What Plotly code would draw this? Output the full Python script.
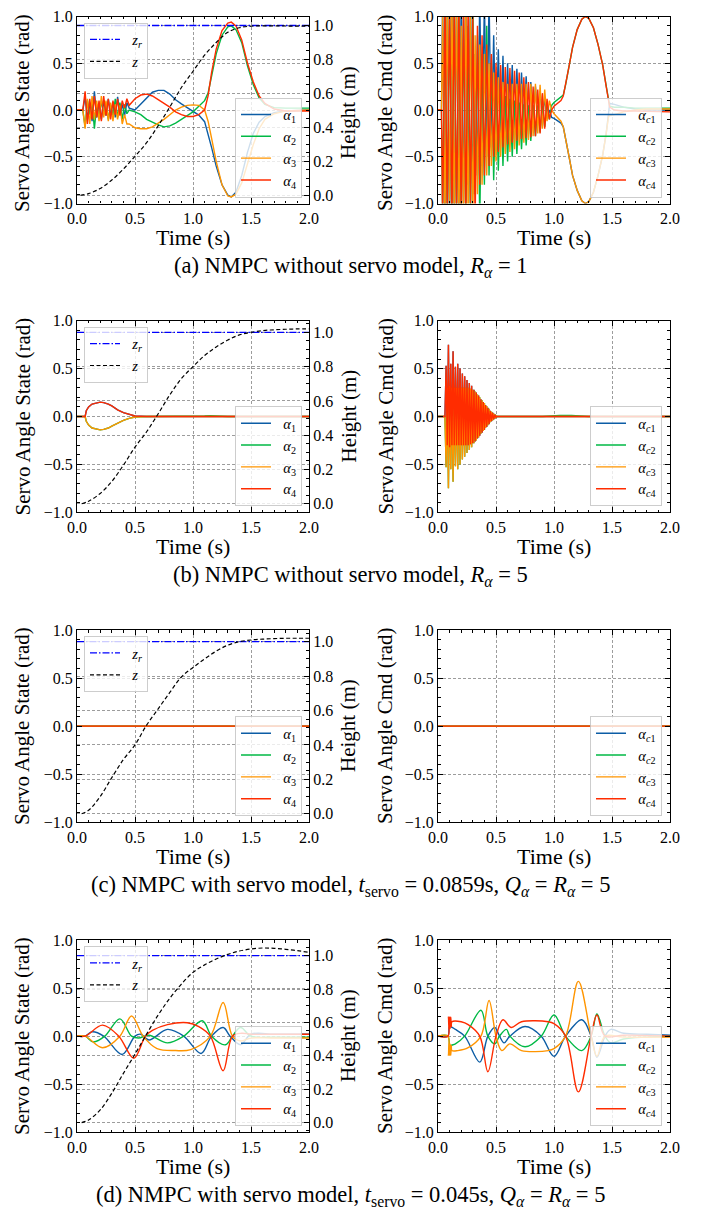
import plotly.graph_objects as go

# ---------------------------------------------------------------- data
C1, C2, C3, C4 = "#0C5DA5", "#00B945", "#FF9500", "#FF2C00"

# reference height (same in every row)
T_ZR = [0.0, 2.0]
ZR = [1.0, 1.0]

# ---- (a) NMPC without servo model, R_alpha = 1
T_Z_A = [0.03, 0.1, 0.2, 0.3, 0.4, 0.5, 0.6, 0.7, 0.8, 0.9, 1.0, 1.1, 1.2, 1.3, 1.4, 1.5, 1.6, 1.7, 1.8, 1.9, 2.0]
Z_A = [0.0, 0.01, 0.04, 0.09, 0.155, 0.23, 0.31, 0.41, 0.52, 0.635, 0.73, 0.825, 0.9, 0.96, 0.987, 0.996, 0.998, 0.998, 0.997, 0.996, 0.996]

T_A_STATE = [0.0, 0.05, 0.07, 0.09, 0.11, 0.13, 0.15, 0.17, 0.19, 0.21, 0.23, 0.25, 0.27, 0.29, 0.31, 0.33,
             0.35, 0.37, 0.39, 0.41, 0.43, 0.45, 0.5, 0.55, 0.6, 0.65, 0.7, 0.75, 0.8, 0.85, 0.9, 0.95, 1.0,
             1.05, 1.1, 1.13, 1.16, 1.2, 1.25, 1.3, 1.33, 1.37, 1.42, 1.47, 1.52, 1.57, 1.62, 1.7, 1.8, 2.0]
A1_A = [0.0, 0.0, 0.14, -0.10, 0.08, -0.12, 0.20, -0.08, 0.06, -0.10, 0.10, -0.06, 0.12, -0.05, 0.08, -0.08,
        0.14, -0.04, 0.06, -0.06, 0.08, 0.02, 0.0, 0.065, 0.13, 0.19, 0.21, 0.21, 0.17, 0.11, 0.065, 0.025,
        -0.02, -0.055, -0.125, -0.25, -0.4, -0.6, -0.8, -0.91, -0.93, -0.88, -0.7, -0.45, -0.25, -0.13,
        -0.07, -0.03, -0.01, 0.0]
A2_A = [0.0, 0.0, -0.18, 0.10, -0.05, 0.08, -0.20, 0.06, -0.08, 0.10, -0.05, 0.08, -0.10, 0.05, -0.06, 0.12,
        -0.08, 0.08, -0.10, 0.06, -0.04, 0.0, -0.02, -0.05, -0.1, -0.13, -0.16, -0.18, -0.17, -0.14, -0.1,
        -0.06, -0.02, 0.04, 0.1, 0.18, 0.35, 0.6, 0.8, 0.89, 0.9, 0.86, 0.72, 0.47, 0.27, 0.13, 0.06, 0.025,
        0.02, 0.02]
A3_A = [0.0, 0.0, -0.20, 0.12, -0.15, 0.15, -0.10, 0.10, -0.12, 0.15, -0.08, 0.10, -0.12, 0.08, -0.12, 0.06,
        -0.10, 0.05, -0.15, -0.05, -0.15, -0.15, -0.19, -0.2, -0.2, -0.18, -0.14, -0.1, -0.05, 0.0, 0.03,
        0.05, 0.055, 0.05, 0.0, -0.12, -0.3, -0.55, -0.8, -0.92, -0.93, -0.9, -0.78, -0.58, -0.37, -0.2,
        -0.1, -0.04, -0.01, 0.0]
A4_A = [0.0, 0.0, 0.20, -0.15, 0.12, -0.10, 0.15, -0.08, 0.10, -0.12, 0.15, -0.06, 0.12, -0.10, 0.10, -0.05,
        0.12, -0.06, 0.10, 0.02, 0.12, 0.05, 0.12, 0.16, 0.17, 0.15, 0.11, 0.07, 0.03, -0.02, -0.05, -0.07,
        -0.07, -0.05, 0.0, 0.15, 0.4, 0.65, 0.85, 0.93, 0.94, 0.9, 0.75, 0.5, 0.3, 0.15, 0.07, 0.01, -0.01,
        -0.01]

T_A_CMD = [0.0, 0.03, 0.04, 0.06, 0.08, 0.10, 0.12, 0.14, 0.16, 0.18, 0.20, 0.22, 0.24, 0.26, 0.28, 0.30,
           0.32, 0.34, 0.36, 0.38, 0.40, 0.42, 0.44, 0.46, 0.48, 0.50, 0.52, 0.54, 0.56, 0.58, 0.60, 0.62,
           0.64, 0.66, 0.68, 0.70, 0.72, 0.74, 0.76, 0.78, 0.80, 0.82, 0.84, 0.86, 0.88, 0.90, 0.92, 0.94,
           0.96, 0.98, 1.0, 1.03, 1.06, 1.08, 1.1, 1.13, 1.16, 1.2, 1.24, 1.27, 1.3, 1.34, 1.38, 1.42, 1.45,
           1.47, 1.48, 1.52, 1.6, 1.7, 1.8, 2.0]
AC1_A = [0.0, 0.0, 1.2, -1.2, 1.2, -1.2, 1.2, -1.2, 1.2, -1.2, 1.2, -1.0, 1.2, -0.8, 1.2, -0.9, 0.6, -0.7,
         1.2, -0.6, 1.2, -0.5, 1.2, -0.4, 0.8, -0.35, 0.65, -0.3, 0.58, -0.3, 0.5, -0.25, 0.48, -0.22, 0.44,
         -0.2, 0.4, -0.18, 0.36, -0.15, 0.3, -0.13, 0.25, -0.1, 0.2, -0.08, 0.12, -0.08, 0.0,
         -0.08, -0.09, -0.12, -0.14, -0.18, -0.3, -0.5, -0.7, -0.86, -0.97, -1.0, -0.98, -0.88, -0.7, -0.48,
         -0.25, -0.07, 0.07, 0.06, 0.03, 0.01, 0.0, 0.0]
AC2_A = [0.0, 0.0, -1.2, 1.2, -1.2, 1.2, -1.2, 1.2, -1.2, 1.2, -1.2, 1.0, -1.2, 0.9, -1.2, 1.2, -0.9, 0.8,
         -1.2, 0.6, -0.8, 0.9, -0.7, 0.5, -0.75, 0.3, -0.65, 0.2, -0.6, 0.15, -0.55, 0.12, -0.5, 0.1, -0.47,
         0.08, -0.42, 0.06, -0.38, 0.05, -0.33, 0.05, -0.28, 0.05, -0.24, 0.05, -0.18, 0.05, -0.1,
         0.05, 0.08, 0.11, 0.13, 0.16, 0.27, 0.47, 0.67, 0.86, 0.97, 1.0, 0.98, 0.88, 0.7, 0.48, 0.25, 0.08,
         0.04, 0.03, 0.03, 0.02, 0.02, 0.02]
AC3_A = [0.0, 0.0, 1.0, -1.2, 1.2, -1.0, 1.2, -1.2, 1.2, -1.2, 0.9, -1.2, 1.2, -1.2, 1.0, -1.2, 0.8, -0.9,
         0.7, -0.8, 0.6, -0.7, 0.5, -0.6, 0.4, -0.55, 0.35, -0.5, 0.3, -0.47, 0.28, -0.45, 0.28, -0.42, 0.28,
         -0.38, 0.28, -0.35, 0.28, -0.32, 0.28, -0.28, 0.28, -0.25, 0.27, -0.2, 0.22, -0.12, 0.1,
         0.0, -0.04, -0.08, -0.12, -0.18, -0.3, -0.5, -0.7, -0.86, -0.97, -1.0, -0.98, -0.88, -0.7, -0.48,
         -0.25, -0.07, -0.06, -0.05, -0.02, 0.0, 0.01, 0.01]
AC4_A = [0.0, 0.0, -1.2, 1.2, -1.2, 1.2, -1.2, 1.2, -1.2, 1.2, -1.2, 1.2, -1.2, 1.2, -1.0, 1.0, -1.2, 0.9,
         -0.8, 0.8, -0.7, 0.7, -0.6, 0.6, -0.5, 0.5, -0.45, 0.48, -0.4, 0.46, -0.37, 0.45, -0.35, 0.42, -0.33,
         0.4, -0.31, 0.35, -0.3, 0.3, -0.29, 0.25, -0.28, 0.22, -0.25, 0.18, -0.2, 0.12, -0.1,
         0.0, 0.04, 0.07, 0.1, 0.15, 0.27, 0.47, 0.67, 0.86, 0.97, 1.0, 0.98, 0.88, 0.7, 0.48, 0.25, 0.08,
         0.03, 0.0, -0.01, -0.01, -0.015, -0.02]

# ---- (b) NMPC without servo model, R_alpha = 5
T_Z_B = [0.04, 0.1, 0.2, 0.3, 0.4, 0.5, 0.6, 0.7, 0.8, 0.9, 1.0, 1.1, 1.2, 1.3, 1.4, 1.5, 1.6, 1.7, 1.8, 1.9, 2.0]
Z_B = [0.0, 0.015, 0.06, 0.13, 0.225, 0.33, 0.42, 0.525, 0.635, 0.73, 0.80, 0.865, 0.915, 0.955, 0.985, 1.0,
       1.01, 1.015, 1.018, 1.02, 1.02]

T_B_STATE = [0.0, 0.07, 0.08, 0.1, 0.13, 0.17, 0.2, 0.23, 0.27, 0.3, 0.35, 0.4, 0.45, 0.5, 0.6, 1.0, 1.1,
             1.15, 1.2, 1.3, 2.0]
A1_B = [0.0, 0.0, 0.06, 0.1, 0.13, 0.145, 0.15, 0.145, 0.13, 0.11, 0.07, 0.04, 0.02, 0.005, 0.0, 0.0, 0.0,
        0.0, 0.0, 0.0, 0.0]
A2_B = [0.0, 0.0, -0.05, -0.09, -0.12, -0.135, -0.14, -0.135, -0.12, -0.1, -0.07, -0.04, -0.02, -0.005, 0.0,
        0.0, 0.005, 0.008, 0.005, 0.0, 0.0]
A3_B = [0.0, 0.0, -0.05, -0.09, -0.12, -0.135, -0.14, -0.135, -0.12, -0.1, -0.07, -0.04, -0.02, -0.005, 0.0,
        0.0, 0.0, 0.0, 0.0, 0.0, 0.0]
A4_B = [0.0, 0.0, 0.06, 0.1, 0.13, 0.145, 0.15, 0.145, 0.13, 0.11, 0.07, 0.04, 0.02, 0.005, 0.0, 0.0, 0.0,
        0.0, 0.0, 0.0, 0.0]

T_B_CMD = [0.0, 0.06, 0.07, 0.08, 0.09, 0.10, 0.11, 0.12, 0.13, 0.14, 0.15, 0.16, 0.17, 0.18, 0.19, 0.20,
           0.21, 0.22, 0.23, 0.24, 0.25, 0.26, 0.27, 0.28, 0.29, 0.30, 0.31, 0.32, 0.33, 0.34, 0.35, 0.36,
           0.37, 0.38, 0.39, 0.40, 0.41, 0.42, 0.43, 0.44, 0.45, 0.46, 0.47, 0.48, 0.49, 0.50, 0.51,
           0.6, 0.9, 1.05, 1.15, 1.3, 2.0]
AC4_B = [0.0, 0.0, 0.53, -0.3, 0.75, -0.32, 0.55, -0.3, 0.68, -0.3, 0.52, -0.3, 0.55, -0.3, 0.5, -0.3, 0.45,
         -0.3, 0.42, -0.3, 0.38, -0.3, 0.35, -0.29, 0.32, -0.28, 0.28, -0.26, 0.25, -0.23, 0.22, -0.2, 0.18,
         -0.17, 0.15, -0.14, 0.12, -0.11, 0.09, -0.08, 0.06, -0.05, 0.04, -0.03, 0.02, -0.01, 0.0,
         0.0, 0.0, 0.0, 0.0, 0.0, 0.0]
AC3_B = [0.0, 0.0, -0.53, 0.3, -0.75, 0.32, -0.55, 0.3, -0.68, 0.3, -0.52, 0.3, -0.55, 0.3, -0.5, 0.3, -0.45,
         0.3, -0.42, 0.3, -0.38, 0.3, -0.35, 0.29, -0.32, 0.28, -0.28, 0.26, -0.25, 0.23, -0.22, 0.2, -0.18,
         0.17, -0.15, 0.14, -0.12, 0.11, -0.09, 0.08, -0.06, 0.05, -0.04, 0.03, -0.02, 0.01, 0.0,
         0.0, 0.0, 0.0, 0.0, 0.0, 0.0]
# blue and green lie exactly under red and orange in this panel
AC1_B = [0.0, 0.0, 0.53, -0.3, 0.75, -0.32, 0.55, -0.3, 0.68, -0.3, 0.52, -0.3, 0.55, -0.3, 0.5, -0.3, 0.45,
         -0.3, 0.42, -0.3, 0.38, -0.3, 0.35, -0.29, 0.32, -0.28, 0.28, -0.26, 0.25, -0.23, 0.22, -0.2, 0.18,
         -0.17, 0.15, -0.14, 0.12, -0.11, 0.09, -0.08, 0.06, -0.05, 0.04, -0.03, 0.02, -0.01, 0.0,
         0.0, 0.0, 0.0, 0.0, 0.0, 0.0]
AC2_B = [0.0, 0.0, -0.53, 0.3, -0.75, 0.32, -0.55, 0.3, -0.68, 0.3, -0.52, 0.3, -0.55, 0.3, -0.5, 0.3, -0.45,
         0.3, -0.42, 0.3, -0.38, 0.3, -0.35, 0.29, -0.32, 0.28, -0.28, 0.26, -0.25, 0.23, -0.22, 0.2, -0.18,
         0.17, -0.15, 0.14, -0.12, 0.11, -0.09, 0.08, -0.06, 0.05, -0.04, 0.03, -0.02, 0.01, 0.0,
         0.0, 0.0, 0.01, 0.01, 0.0, 0.0]

# ---- (c) NMPC with servo model, t_servo = 0.0859 s
T_Z_C = [0.04, 0.1, 0.2, 0.3, 0.4, 0.5, 0.6, 0.7, 0.8, 0.9, 1.0, 1.1, 1.2, 1.3, 1.4, 1.5, 1.6, 1.7, 1.8, 1.9, 2.0]
Z_C = [0.0, 0.02, 0.1, 0.21, 0.315, 0.40, 0.515, 0.61, 0.705, 0.795, 0.85, 0.9, 0.945, 0.98, 1.0, 1.01,
       1.015, 1.018, 1.02, 1.02, 1.02]
T_C = [0.0, 2.0]
A_C = [0.0, 0.0]      # all four servo states stay at zero
AC_C = [0.0, 0.0]     # all four servo commands stay at zero

# ---- (d) NMPC with servo model, t_servo = 0.045 s
T_Z_D = [0.04, 0.1, 0.2, 0.3, 0.4, 0.5, 0.6, 0.7, 0.8, 0.9, 1.0, 1.1, 1.2, 1.3, 1.4, 1.5, 1.6, 1.7, 1.8, 1.9, 2.0]
Z_D = [0.0, 0.016, 0.076, 0.176, 0.295, 0.41, 0.53, 0.645, 0.745, 0.83, 0.9, 0.945, 0.98, 1.008, 1.028,
       1.04, 1.046, 1.044, 1.038, 1.03, 1.02]

T_A1_D = [0.0, 0.07, 0.13, 0.23, 0.39, 0.5, 0.55, 0.62, 0.78, 0.92, 1.07, 1.16, 1.26, 1.32, 1.41, 1.5, 1.7, 2.0]
A1_D = [0.0, 0.0, 0.045, 0.0, -0.19, 0.0, 0.02, -0.04, 0.07, 0.0, -0.18, 0.0, 0.09, 0.0, -0.09, 0.02, 0.02, 0.02]
T_A2_D = [0.0, 0.07, 0.14, 0.24, 0.37, 0.47, 0.53, 0.62, 0.78, 0.92, 1.08, 1.16, 1.28, 1.34, 1.41, 1.5, 1.7, 2.0]
A2_D = [0.0, 0.0, -0.06, 0.0, 0.18, 0.0, -0.02, 0.01, -0.07, 0.0, 0.16, 0.0, -0.09, 0.0, 0.09, 0.0, -0.01, -0.01]
T_A3_D = [0.0, 0.07, 0.22, 0.37, 0.47, 0.57, 0.69, 0.85, 0.98, 1.15, 1.26, 1.34, 1.41, 1.5, 1.7, 2.0]
A3_D = [0.0, 0.0, -0.12, 0.0, 0.21, 0.0, -0.13, -0.15, -0.14, 0.0, 0.35, 0.0, -0.05, -0.02, -0.02, -0.02]
T_A4_D = [0.0, 0.07, 0.22, 0.36, 0.49, 0.59, 0.65, 0.78, 0.95, 1.05, 1.15, 1.26, 1.34, 1.42, 1.5, 1.7, 2.0]
A4_D = [0.0, 0.0, 0.115, 0.0, -0.23, 0.0, 0.06, 0.12, 0.14, 0.1, 0.0, -0.36, 0.0, 0.03, 0.02, 0.02, 0.02]

T_AC1_D = [0.0, 0.085, 0.1, 0.15, 0.23, 0.36, 0.43, 0.49, 0.53, 0.57, 0.62, 0.75, 0.89, 1.0, 1.1, 1.24, 1.32,
           1.37, 1.44, 1.49, 1.6, 1.8, 2.0]
AC1_D = [0.0, 0.0, 0.1, 0.07, 0.0, -0.27, 0.0, 0.09, 0.0, -0.07, 0.0, 0.1, 0.0, -0.21, 0.0, 0.17, 0.0, -0.22,
         0.0, 0.07, 0.03, 0.02, 0.01]
T_AC2_D = [0.0, 0.085, 0.1, 0.11, 0.15, 0.23, 0.37, 0.43, 0.49, 0.53, 0.59, 0.62, 0.75, 0.89, 1.0, 1.1, 1.24,
           1.32, 1.37, 1.44, 1.49, 1.6, 1.8, 2.0]
AC2_D = [0.0, 0.0, -0.15, -0.1, -0.08, 0.0, 0.27, 0.0, -0.08, 0.0, 0.07, 0.0, -0.11, 0.0, 0.22, 0.0, -0.15,
         0.0, 0.23, 0.0, -0.07, -0.03, -0.01, 0.0]
T_AC3_D = [0.0, 0.085, 0.09, 0.095, 0.1, 0.105, 0.11, 0.115, 0.12, 0.17, 0.26, 0.37, 0.44, 0.5, 0.55, 0.62,
           0.72, 0.95, 1.0, 1.1, 1.21, 1.32, 1.37, 1.44, 1.6, 2.0]
AC3_D = [0.0, 0.0, -0.2, -0.05, -0.2, -0.08, -0.2, -0.1, -0.15, -0.15, -0.12, 0.0, 0.37, 0.0, -0.15, -0.08,
         -0.15, -0.15, -0.13, 0.0, 0.57, 0.0, -0.21, 0.0, -0.01, -0.01]
T_AC4_D = [0.0, 0.085, 0.09, 0.095, 0.1, 0.105, 0.11, 0.115, 0.12, 0.2, 0.26, 0.36, 0.43, 0.5, 0.56, 0.63,
           0.72, 0.95, 1.0, 1.1, 1.21, 1.32, 1.37, 1.44, 1.6, 2.0]
AC4_D = [0.0, 0.0, 0.2, 0.05, 0.2, 0.08, 0.2, 0.1, 0.15, 0.15, 0.12, 0.0, -0.37, 0.0, 0.17, 0.09, 0.15, 0.15,
         0.13, 0.0, -0.58, 0.0, 0.22, 0.0, 0.01, 0.0]

CAPTIONS = [
    "(a) NMPC without servo model, <i>R</i><sub><i>α</i></sub> = 1",
    "(b) NMPC without servo model, <i>R</i><sub><i>α</i></sub> = 5",
    "(c) NMPC with servo model, <i>t</i><sub>servo</sub> = 0.0859s, <i>Q</i><sub><i>α</i></sub> = <i>R</i><sub><i>α</i></sub> = 5",
    "(d) NMPC with servo model, <i>t</i><sub>servo</sub> = 0.045s, <i>Q</i><sub><i>α</i></sub> = <i>R</i><sub><i>α</i></sub> = 5",
]
NB = "\u00a0\u00a0"
STATE_NAMES = [NB + "<i>α</i><sub>1</sub>", NB + "<i>α</i><sub>2</sub>", NB + "<i>α</i><sub>3</sub>",
               NB + "<i>α</i><sub>4</sub>"]
CMD_NAMES = [NB + "<i>α</i><sub><i>c</i>1</sub>", NB + "<i>α</i><sub><i>c</i>2</sub>",
             NB + "<i>α</i><sub><i>c</i>3</sub>", NB + "<i>α</i><sub><i>c</i>4</sub>"]
ZR_NAME = NB + "<i>z</i><sub><i>r</i></sub>"
Z_NAME = NB + "<i>z</i>"
Y_STATE_TITLE = "Servo Angle State (rad)"
Y_CMD_TITLE = "Servo Angle Cmd (rad)"
Y_HEIGHT_TITLE = "Height (m)"
X_TITLE = "Time (s)"

ROWS = [
    dict(z=(T_Z_A, Z_A), hr=[-0.048, 1.053],
         state=[(T_A_STATE, A1_A), (T_A_STATE, A2_A), (T_A_STATE, A3_A), (T_A_STATE, A4_A)],
         cmd=[(T_A_CMD, AC1_A), (T_A_CMD, AC2_A), (T_A_CMD, AC3_A), (T_A_CMD, AC4_A)], shape="linear"),
    dict(z=(T_Z_B, Z_B), hr=[-0.05, 1.068],
         state=[(T_B_STATE, A1_B), (T_B_STATE, A2_B), (T_B_STATE, A3_B), (T_B_STATE, A4_B)],
         cmd=[(T_B_CMD, AC1_B), (T_B_CMD, AC2_B), (T_B_CMD, AC3_B), (T_B_CMD, AC4_B)], shape="linear"),
    dict(z=(T_Z_C, Z_C), hr=[-0.05, 1.068],
         state=[(T_C, A_C)] * 4, cmd=[(T_C, AC_C)] * 4, shape="linear"),
    dict(z=(T_Z_D, Z_D), hr=[-0.058, 1.094],
         state=[(T_A1_D, A1_D), (T_A2_D, A2_D), (T_A3_D, A3_D), (T_A4_D, A4_D)],
         cmd=[(T_AC1_D, AC1_D), (T_AC2_D, AC2_D), (T_AC3_D, AC3_D), (T_AC4_D, AC4_D)], shape="spline"),
]

# ---------------------------------------------------------------- layout geometry (page pixels)
PAGE_W, PAGE_H = 701, 1211
OFF = 8                      # default body margin of the html page
W, H = PAGE_W - OFF, PAGE_H - OFF
FONT = "Liberation Serif, Times New Roman, Times, serif"
TOPS = [16.5, 320.7, 630, 940]
BOTS = [203.5, 512.3, 822.3, 1132.3]
YTITLE_MID = [113, 416.5, 726, 1036]
XL = (77, 309)
XR = (438, 670)
COLORS = [C1, C2, C3, C4]
GRID = "rgba(90,90,90,0.6)"


def px(x):
    return (x - OFF) / W


def py(y):
    return 1 - (y - OFF) / H


def ref(prefix, n):
    return prefix if n == 1 else f"{prefix}{n}"


fig = go.Figure()
layout = dict(template="none", width=W, height=H, margin=dict(l=0, r=0, t=0, b=0, pad=0),
              paper_bgcolor="white", plot_bgcolor="white", showlegend=True,
              font=dict(family=FONT, size=16, color="black"), annotations=[])

tickfont = dict(family=FONT, size=16, color="black")


def minor(step):
    return dict(dtick=step, tick0=0, ticks="inside", ticklen=2.5, tickcolor="black", tickwidth=0.8,
                showgrid=False)


def axis_common():
    return dict(showline=True, linecolor="black", linewidth=1.2, ticks="inside", ticklen=5,
                tickwidth=1, tickcolor="black", showgrid=True, gridcolor=GRID, griddash="3px,2px",
                gridwidth=0.7, zeroline=False, tickfont=tickfont, tickformat=".1f", automargin=False,
                layer="above traces", ticklabeloverflow="allow")


for i, row in enumerate(ROWS):
    xl, xr = 2 * i + 1, 2 * i + 2
    yl, yh, yr = 3 * i + 1, 3 * i + 2, 3 * i + 3
    lz, la, lc = 3 * i + 1, 3 * i + 2, 3 * i + 3
    ydom = [py(BOTS[i]), py(TOPS[i])]

    for k, (t, v) in enumerate(row["state"]):
        fig.add_trace(go.Scatter(x=t, y=v, mode="lines", name=STATE_NAMES[k],
                                 line=dict(color=COLORS[k], width=1.4, shape=row["shape"]),
                                 xaxis=ref("x", xl), yaxis=ref("y", yl), legend=ref("legend", la)))
    fig.add_trace(go.Scatter(x=T_ZR, y=ZR, mode="lines", name=ZR_NAME,
                             line=dict(color="#0000FF", width=1.3, dash="7px,2px,1.5px,2px"),
                             xaxis=ref("x", xl), yaxis=ref("y", yh), legend=ref("legend", lz)))
    fig.add_trace(go.Scatter(x=row["z"][0], y=row["z"][1], mode="lines", name=Z_NAME,
                             line=dict(color="black", width=1.2, dash="4px,2.5px", shape="spline"),
                             xaxis=ref("x", xl), yaxis=ref("y", yh), legend=ref("legend", lz)))
    for k, (t, v) in enumerate(row["cmd"]):
        fig.add_trace(go.Scatter(x=t, y=v, mode="lines", name=CMD_NAMES[k],
                                 line=dict(color=COLORS[k], width=1.4, shape=row["shape"]),
                                 xaxis=ref("x", xr), yaxis=ref("y", yr), legend=ref("legend", lc)))

    for xid, dom, yid in ((xl, XL, yl), (xr, XR, yr)):
        ax = axis_common()
        ax.update(domain=[px(dom[0]), px(dom[1])], anchor=ref("y", yid), range=[0, 2], tick0=0,
                  dtick=0.5, mirror="ticks", minor=minor(0.1))
        layout[ref("xaxis", xid)] = ax
    ay = axis_common()
    ay.update(domain=ydom, anchor=ref("x", xl), range=[-1, 1], tick0=-1, dtick=0.5, mirror=False,
              minor=minor(0.1))
    layout[ref("yaxis", yl)] = ay
    ah = axis_common()
    ah.update(overlaying=ref("y", yl), anchor=ref("x", xl), side="right", range=row["hr"], tick0=0,
              dtick=0.2, minor=minor(0.05))
    layout[ref("yaxis", yh)] = ah
    ar = axis_common()
    ar.update(domain=ydom, anchor=ref("x", xr), range=[-1, 1], tick0=-1, dtick=0.5, mirror="ticks",
              minor=minor(0.1))
    layout[ref("yaxis", yr)] = ar

    leg_style = dict(bgcolor="rgba(255,255,255,0.8)", bordercolor="rgba(200,200,200,0.9)", borderwidth=1,
                     font=dict(family=FONT, size=14.5, color="black"), tracegroupgap=0, itemwidth=30)
    layout[ref("legend", lz)] = dict(leg_style, x=px(84), y=py(TOPS[i] + 6), xanchor="left", yanchor="top")
    layout[ref("legend", la)] = dict(leg_style, x=px(302), y=py(BOTS[i] - 6), xanchor="right",
                                     yanchor="bottom")
    layout[ref("legend", lc)] = dict(leg_style, x=px(662), y=py(BOTS[i] - 6), xanchor="right",
                                     yanchor="bottom")

    ymid = py(YTITLE_MID[i])
    yfont = dict(family=FONT, size=21, color="black")
    tfont = dict(family=FONT, size=22, color="black")
    cfont = dict(family=FONT, size=22.5, color="black")
    ann = layout["annotations"]
    ann.append(dict(text=Y_STATE_TITLE, x=px(22), y=ymid, xref="paper", yref="paper", textangle=-90,
                    showarrow=False, font=yfont, xanchor="center", yanchor="middle"))
    ann.append(dict(text=Y_HEIGHT_TITLE, x=px(348), y=ymid, xref="paper", yref="paper", textangle=-90,
                    showarrow=False, font=yfont, xanchor="center", yanchor="middle"))
    ann.append(dict(text=Y_CMD_TITLE, x=px(385), y=ymid, xref="paper", yref="paper", textangle=-90,
                    showarrow=False, font=yfont, xanchor="center", yanchor="middle"))
    for xc in ((XL[0] + XL[1]) / 2, (XR[0] + XR[1]) / 2):
        ann.append(dict(text=X_TITLE, x=px(xc), y=py(BOTS[i] + 34), xref="paper", yref="paper",
                        showarrow=False, font=tfont, xanchor="center", yanchor="middle"))
    ann.append(dict(text=CAPTIONS[i], x=px(350.5), y=py(BOTS[i] + 64), xref="paper", yref="paper",
                    showarrow=False, font=cfont, xanchor="center", yanchor="middle"))

fig.update_layout(**layout)
fig.write_html("out.html")
